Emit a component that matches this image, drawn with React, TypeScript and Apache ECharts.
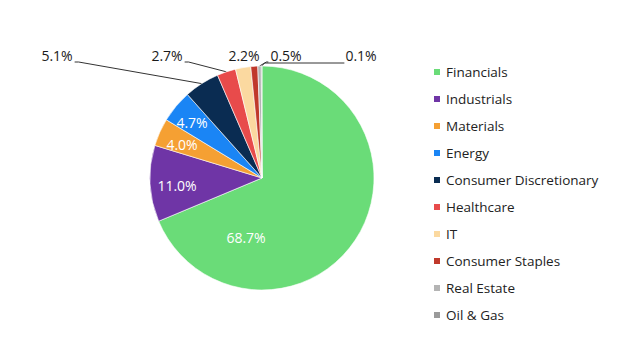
import React, { useEffect, useRef } from "react";
import * as echarts from "echarts";

// ---- data ----
const categories = [
  "Financials",
  "Industrials",
  "Materials",
  "Energy",
  "Consumer Discretionary",
  "Healthcare",
  "IT",
  "Consumer Staples",
  "Real Estate",
  "Oil & Gas",
];
const shares = [68.7, 11.0, 4.0, 4.7, 5.1, 2.7, 2.2, 1.0, 0.5, 0.1];

// ---- styles / layout ----
const colors = [
  "#6ADC78",
  "#6F35A6",
  "#F5A033",
  "#1A85F5",
  "#0A2C52",
  "#E84B4B",
  "#FBD9A0",
  "#C0392B",
  "#B4B4B4",
  "#9A9A9A",
];
const CX = 262;
const CY = 178;
const R = 112;
const FONT = "'Open Sans', 'Noto Sans', sans-serif";

type LabelSpec = { x: number; y: number; inside: boolean; line: string };
const labelSpecs: (LabelSpec | null)[] = [
  { x: 246, y: 237, inside: true, line: "none" },
  { x: 177, y: 185, inside: true, line: "none" },
  { x: 182, y: 144, inside: true, line: "none" },
  { x: 192, y: 122, inside: true, line: "none" },
  { x: 57, y: 55, inside: false, line: "right" },
  { x: 167, y: 55, inside: false, line: "right" },
  { x: 244, y: 55, inside: false, line: "none" },
  null,
  { x: 286, y: 55, inside: false, line: "leftShort" },
  { x: 361, y: 55, inside: false, line: "leftElbow" },
];

function edgePoint(idx: number): number[] {
  const total = shares.reduce((a, b) => a + b, 0);
  let cum = 0;
  for (let i = 0; i < idx; i++) cum += shares[i];
  const mid = ((cum + shares[idx] / 2) / total) * Math.PI * 2;
  return [CX + R * Math.sin(mid), CY - R * Math.cos(mid)];
}

export default function App() {
  const ref = useRef<HTMLDivElement>(null);

  useEffect(() => {
    document.body.style.margin = "0";
    if (!ref.current) return;
    const chart = echarts.init(ref.current, undefined, { renderer: "svg" });

    const data = categories.map((name, i) => {
      const spec = labelSpecs[i];
      return {
        name,
        value: shares[i],
        itemStyle: { color: colors[i] },
        label: spec
          ? {
              show: true,
              position: spec.inside ? "inside" : "outside",
              color: spec.inside ? "#ffffff" : "#1a1a1a",
            }
          : { show: false },
        labelLine: { show: !!spec && !spec.inside && spec.line !== "none" },
      };
    });

    chart.setOption({
      animation: false,
      backgroundColor: "#ffffff",
      legend: {
        orient: "vertical",
        left: 427,
        top: 59,
        itemWidth: 8,
        itemHeight: 8,
        itemGap: 11,
        icon: "rect",
        selectedMode: false,
        textStyle: {
          fontSize: 13.5,
          lineHeight: 16,
          color: "#222222",
          fontFamily: FONT,
        },
        data: categories,
      },
      series: [
        {
          type: "pie",
          center: [CX, CY],
          radius: [0, R],
          startAngle: 90,
          clockwise: true,
          avoidLabelOverlap: false,
          silent: true,
          itemStyle: { borderColor: "#ffffff", borderWidth: 0.6 },
          label: {
            formatter: (p: any) => `${Number(p.value).toFixed(1)}%`,
            fontSize: 14,
            fontFamily: FONT,
          },
          labelLine: {
            length: 5,
            length2: 5,
            lineStyle: { color: "#333333", width: 1 },
          },
          labelLayout: (params: any) => {
            const i = params.dataIndex;
            const spec = labelSpecs[i];
            if (!spec) return {};
            const w = params.labelRect ? params.labelRect.width : 30;
            const out: any = {
              x: spec.x,
              y: spec.y,
              align: "center",
              verticalAlign: "middle",
            };
            if (!spec.inside && spec.line !== "none") {
              const e = edgePoint(i);
              const left = spec.x - w / 2;
              const right = spec.x + w / 2;
              if (spec.line === "right") {
                out.labelLinePoints = [e, [right + 6, spec.y + 7], [right + 2, spec.y + 7]];
              } else if (spec.line === "leftShort") {
                out.labelLinePoints = [e, [left - 4, spec.y + 7], [left - 2, spec.y + 7]];
              } else if (spec.line === "leftElbow") {
                out.labelLinePoints = [e, [e[0] + 3, spec.y + 8], [left - 1, spec.y + 8]];
              }
            }
            return out;
          },
          data,
        },
      ],
    });

    return () => chart.dispose();
  }, []);

  return <div ref={ref} style={{ width: 640, height: 362 }} />;
}
